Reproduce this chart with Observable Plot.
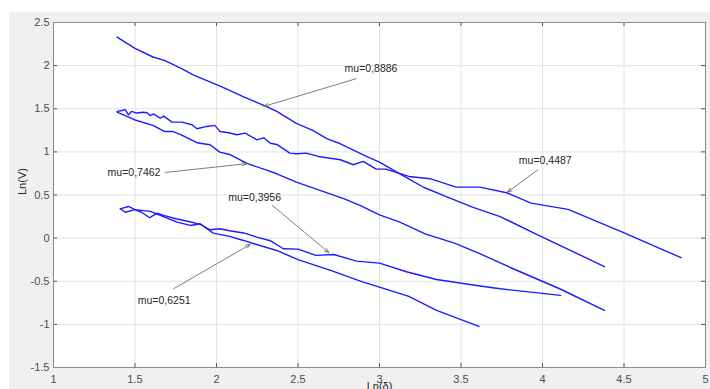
<!DOCTYPE html>
<html><head><meta charset="utf-8">
<script src="https://cdn.jsdelivr.net/npm/d3@7"></script>
<script src="https://cdn.jsdelivr.net/npm/@observablehq/plot@0.6"></script>
<style>
body{margin:0;background:#fff;}
#wrap{position:relative;width:710px;height:389px;overflow:hidden;}
#bg{position:absolute;left:9px;top:12px;width:701px;height:377px;background:#f0f0f0;}
#chart{position:absolute;left:0;top:0;}
</style></head><body>
<div id="wrap"><div id="bg"></div><div id="chart"></div></div>
<script>
// ---- data ----
const xTicks = [1, 1.5, 2, 2.5, 3, 3.5, 4, 4.5, 5];
const yTicks = [-1.5, -1, -0.5, 0, 0.5, 1, 1.5, 2, 2.5];

// mu=0,8886
const aX = [1.39,1.50,1.61,1.68,1.78,1.86,2.00,2.06,2.17,2.29,2.37,2.49,2.59,2.68,2.76,2.92,3.00,3.16,3.27,3.41,3.57,3.74,3.98,4.38];
const aY = [2.33,2.20,2.10,2.06,1.97,1.89,1.78,1.73,1.635,1.54,1.47,1.33,1.25,1.15,1.094,0.947,0.88,0.707,0.59,0.48,0.36,0.25,0.03,-0.33];
// mu=0,4487
const bX = [1.39,1.42,1.44,1.46,1.48,1.51,1.55,1.574,1.594,1.614,1.655,1.676,1.727,1.788,1.85,1.88,1.94,1.99,2.02,2.074,2.125,2.176,2.248,2.29,2.33,2.37,2.45,2.49,2.55,2.625,2.76,2.84,2.90,2.98,3.04,3.18,3.31,3.47,3.615,3.78,3.93,4.157,4.49,4.85];
const bY = [1.47,1.48,1.49,1.43,1.47,1.45,1.46,1.454,1.42,1.44,1.39,1.415,1.345,1.345,1.314,1.268,1.295,1.307,1.237,1.222,1.198,1.217,1.14,1.163,1.10,1.086,0.986,0.978,0.986,0.947,0.909,0.851,0.889,0.80,0.80,0.715,0.689,0.591,0.591,0.526,0.406,0.333,0.07,-0.227];
// mu=0,7462
const cX = [1.39,1.50,1.61,1.68,1.73,1.78,1.88,1.96,2.02,2.08,2.19,2.29,2.37,2.49,2.635,2.78,2.88,3.00,3.125,3.28,3.46,3.615,3.82,4.105,4.38];
const cY = [1.46,1.37,1.307,1.237,1.237,1.20,1.106,1.083,0.997,0.97,0.863,0.80,0.746,0.65,0.553,0.457,0.38,0.27,0.186,0.05,-0.058,-0.18,-0.355,-0.587,-0.838];
// mu=0,3956
const dX = [1.41,1.44,1.50,1.54,1.59,1.635,1.676,1.75,1.83,1.90,1.96,2.02,2.08,2.166,2.248,2.33,2.41,2.50,2.61,2.72,2.86,3.00,3.165,3.35,3.595,3.74,4.11];
const dY = [0.34,0.30,0.33,0.30,0.236,0.29,0.263,0.225,0.193,0.159,0.097,0.109,0.085,0.06,0.012,-0.03,-0.123,-0.128,-0.20,-0.19,-0.267,-0.29,-0.39,-0.48,-0.55,-0.587,-0.664];
// mu=0,6251
const eX = [1.41,1.46,1.50,1.594,1.655,1.758,1.84,1.90,1.98,2.08,2.166,2.23,2.37,2.50,2.70,2.90,3.00,3.18,3.35,3.61];
const eY = [0.34,0.367,0.33,0.31,0.263,0.186,0.147,0.167,0.058,0.02,-0.027,-0.065,-0.143,-0.25,-0.374,-0.51,-0.568,-0.676,-0.838,-1.024];

const seriesNames = ["mu=0,8886","mu=0,4487","mu=0,7462","mu=0,3956","mu=0,6251"];
const seriesX = [aX, bX, cX, dX, eX];
const seriesY = [aY, bY, cY, dY, eY];

// annotations
const annLabels = ["mu=0,8886","mu=0,7462","mu=0,3956","mu=0,6251","mu=0,4487"];
const annTextX = [2.948, 1.494, 2.234, 1.679, 4.017];
const annTextY = [1.968, 0.754, 0.475, -0.722, 0.893];
const annTailX = [2.856, 1.686, 2.343, 1.737, 3.973];
const annTailY = [1.848, 0.762, 0.379, -0.587, 0.793];
const annTipX  = [2.29, 2.187, 2.69, 2.207, 3.785];
const annTipY  = [1.527, 0.863, -0.169, -0.073, 0.533];

// ---- build tables ----
const lineData = seriesNames.flatMap((name, s) => seriesX[s].map((x, i) => ({series: name, x, y: seriesY[s][i]})));
const annData = annLabels.map((t, i) => ({t, tx: annTextX[i], ty: annTextY[i], x1: annTailX[i], y1: annTailY[i], x2: annTipX[i], y2: annTipY[i]}));

const W = 710, H = 389, mL = 53, mR = 5, mT = 22, mB = 22;
const innerW = W - mL - mR, innerH = H - mT - mB;
const font = "'Liberation Sans', Arial, Helvetica, sans-serif";

const chart = Plot.plot({
  width: W, height: H,
  marginLeft: mL, marginRight: mR, marginTop: mT, marginBottom: mB,
  style: {background: "transparent", fontFamily: font, fontSize: "11px", overflow: "hidden"},
  x: {domain: [1, 5]},
  y: {domain: [-1.5, 2.5]},
  marks: [
    Plot.frame({fill: "white", stroke: null}),
    Plot.gridX(xTicks, {stroke: "#e2e2e2", strokeOpacity: 1}),
    Plot.gridY(yTicks, {stroke: "#e2e2e2", strokeOpacity: 1}),
    Plot.tickX(xTicks, {x: d => d, insetTop: innerH - 4, stroke: "#555"}),
    Plot.tickX(xTicks, {x: d => d, insetBottom: innerH - 4, stroke: "#555"}),
    Plot.tickY(yTicks, {y: d => d, insetRight: innerW - 4, stroke: "#555"}),
    Plot.tickY(yTicks, {y: d => d, insetLeft: innerW - 4, stroke: "#555"}),
    Plot.frame({stroke: "#8a8a8a"}),
    Plot.line(lineData, {x: "x", y: "y", z: "series", stroke: "#1c1cff", strokeWidth: 1.4}),
    Plot.arrow(annData, {x1: "x1", y1: "y1", x2: "x2", y2: "y2", stroke: "#6e6e6e", strokeWidth: 0.9, headLength: 8, headAngle: 40}),
    Plot.text(annData, {x: "tx", y: "ty", text: "t", fontSize: 10.5, fill: "#262626"}),
    Plot.axisX(xTicks, {anchor: "bottom", tickSize: 0, tickPadding: 8, tickFormat: d => String(d), color: "#4d4d4d", fontSize: 11, label: null}),
    Plot.axisY(yTicks, {anchor: "left", tickSize: 0, tickPadding: 4, tickFormat: d => String(d), color: "#4d4d4d", fontSize: 11, label: null}),
    Plot.text(["Ln(δ)"], {frameAnchor: "bottom", text: d => d, lineAnchor: "top", dy: 15, fontSize: 11, fill: "#262626"}),
    Plot.text(["Ln(V)"], {frameAnchor: "left", text: d => d, rotate: -90, dx: -31, fontSize: 11, fill: "#262626"})
  ]
});
document.getElementById("chart").appendChild(chart);
</script>
</body></html>
